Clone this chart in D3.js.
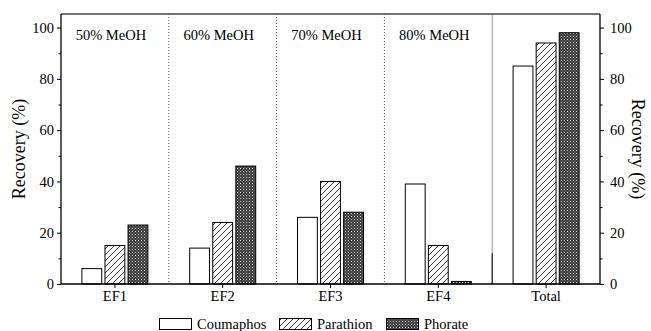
<!DOCTYPE html>
<html><head><meta charset="utf-8">
<script src="https://cdn.jsdelivr.net/npm/d3@7"></script>
<style>body{margin:0;background:#fff}svg{display:block}</style>
</head><body><svg id="c" width="651" height="331"></svg>
<script>
const categories = ["EF1","EF2","EF3","EF4","Total"];
const seriesNames = ["Coumaphos","Parathion","Phorate"];
const coumaphos = [6,14,26,39,85];
const parathion = [15,24,40,15,94];
const phorate = [23,46,28,1,98];
const regionLabels = ["50% MeOH","60% MeOH","70% MeOH","80% MeOH"];
const yTicks = [0,20,40,60,80,100];
const values = [coumaphos, parathion, phorate];

const FONT = "'Liberation Serif'";
const svg = d3.select("#c");
const m = {l:61, r:51, t:14, b:47};
const W = 651, H = 331;
const x0 = m.l, x1 = W - m.r, yTop = m.t, yBot = H - m.b;

const x = d3.scaleBand().domain(categories).range([x0, x1]).padding(0);
const y = d3.scaleLinear().domain([0, 105.3]).range([yBot, yTop]);

const defs = svg.append("defs");
const hatch = defs.append("pattern").attr("id","hatch").attr("patternUnits","userSpaceOnUse")
  .attr("width",6).attr("height",6);
hatch.append("rect").attr("width",6).attr("height",6).attr("fill","#fff");
hatch.append("path").attr("d","M-1,1 L1,-1 M0,6 L6,0 M5,7 L7,5").attr("stroke","#222").attr("stroke-width",0.9);
const cross = defs.append("pattern").attr("id","cross").attr("patternUnits","userSpaceOnUse")
  .attr("width",3).attr("height",3);
cross.append("rect").attr("width",3).attr("height",3).attr("fill","#3a3a3a");
cross.append("rect").attr("x",0).attr("y",0).attr("width",1).attr("height",1).attr("fill","#cfcfcf");
cross.append("rect").attr("x",1.5).attr("y",1.5).attr("width",1).attr("height",1).attr("fill","#9a9a9a");
const fills = ["#fff","url(#hatch)","url(#cross)"];

function txt(sel, size) {
  return sel.style("font-family", FONT).style("font-size", size).attr("fill","#000");
}

// separators
categories.slice(1).forEach((c,i)=>{
  const xs = x(c);
  const last = i === categories.length-2;
  svg.append("line").attr("x1",xs).attr("x2",xs).attr("y1",yTop).attr("y2",yBot)
    .attr("stroke", last ? "#999" : "#555").attr("stroke-width",1)
    .attr("stroke-dasharray", last ? null : "1,2");
  if (last) {
    svg.append("line").attr("x1",xs).attr("x2",xs).attr("y1",y(12)).attr("y2",yBot)
      .attr("stroke","#000").attr("stroke-width",1);
  }
});

// region labels
regionLabels.forEach((t,i)=>{
  txt(svg.append("text").attr("x", x(categories[i]) + x.bandwidth()/2 - 4).attr("y", 40)
    .attr("text-anchor","middle"), "14.5px").text(t);
});

// bars
const inner = d3.scaleBand().domain(seriesNames).range([-33,33]).paddingInner(0.14).paddingOuter(0);
seriesNames.forEach((s,si)=>{
  svg.append("g").selectAll("rect").data(categories).join("rect")
    .attr("x", c => x(c) + x.bandwidth()/2 + inner(s))
    .attr("width", inner.bandwidth())
    .attr("y", (c,i) => y(values[si][i]))
    .attr("height", (c,i) => yBot - y(values[si][i]))
    .attr("fill", fills[si]).attr("stroke","#000").attr("stroke-width",1);
});

// frame
svg.append("line").attr("x1",x0).attr("x2",x1).attr("y1",yTop).attr("y2",yTop).attr("stroke","#444").attr("stroke-width",1.3);

// axes
const yMinor = d3.range(10,101,20);
const gl = svg.append("g").attr("transform",`translate(${x0},0)`)
  .call(d3.axisLeft(y).tickValues(yTicks).tickSize(4).tickPadding(3));
const gr = svg.append("g").attr("transform",`translate(${x1},0)`)
  .call(d3.axisRight(y).tickValues(yTicks).tickSize(4).tickPadding(6));
const gb = svg.append("g").attr("transform",`translate(0,${yBot})`)
  .call(d3.axisBottom(x).tickSize(4).tickPadding(3));
[gl,gr,gb].forEach(g=>{
  g.attr("font-family", null).attr("font-size", null);
  g.select(".domain").attr("stroke","#000").attr("stroke-width",1.3);
  g.selectAll(".tick line").attr("stroke","#000");
  txt(g.selectAll("text"), "14.5px");
});
gl.select(".domain").attr("d",`M0,${yTop}V${yBot}`);
gr.select(".domain").attr("d",`M0,${yTop}V${yBot}`);
gb.select(".domain").attr("d",`M${x0},0H${x1}`);
svg.append("g").attr("transform",`translate(${x0},0)`).call(d3.axisLeft(y).tickValues(yMinor).tickSize(2.5).tickFormat(""))
  .call(g=>g.select(".domain").remove());
svg.append("g").attr("transform",`translate(${x1},0)`).call(d3.axisRight(y).tickValues(yMinor).tickSize(2.5).tickFormat(""))
  .call(g=>g.select(".domain").remove());

// y labels
txt(svg.append("text").attr("transform",`translate(25,${(yTop+yBot)/2}) rotate(-90)`)
  .attr("text-anchor","middle"), "18px").text("Recovery (%)");
txt(svg.append("text").attr("transform",`translate(632,${(yTop+yBot)/2}) rotate(90)`)
  .attr("text-anchor","middle"), "18px").text("Recovery (%)");

// legend
const legX = [159, 279, 386];
seriesNames.forEach((s,i)=>{
  svg.append("rect").attr("x",legX[i]+0.5).attr("y",318.5).attr("width",32).attr("height",11)
    .attr("fill",fills[i]).attr("stroke","#000").attr("stroke-width",1);
  txt(svg.append("text").attr("x",legX[i]+38).attr("y",328.5), "14.5px").text(s);
});
</script></body></html>
